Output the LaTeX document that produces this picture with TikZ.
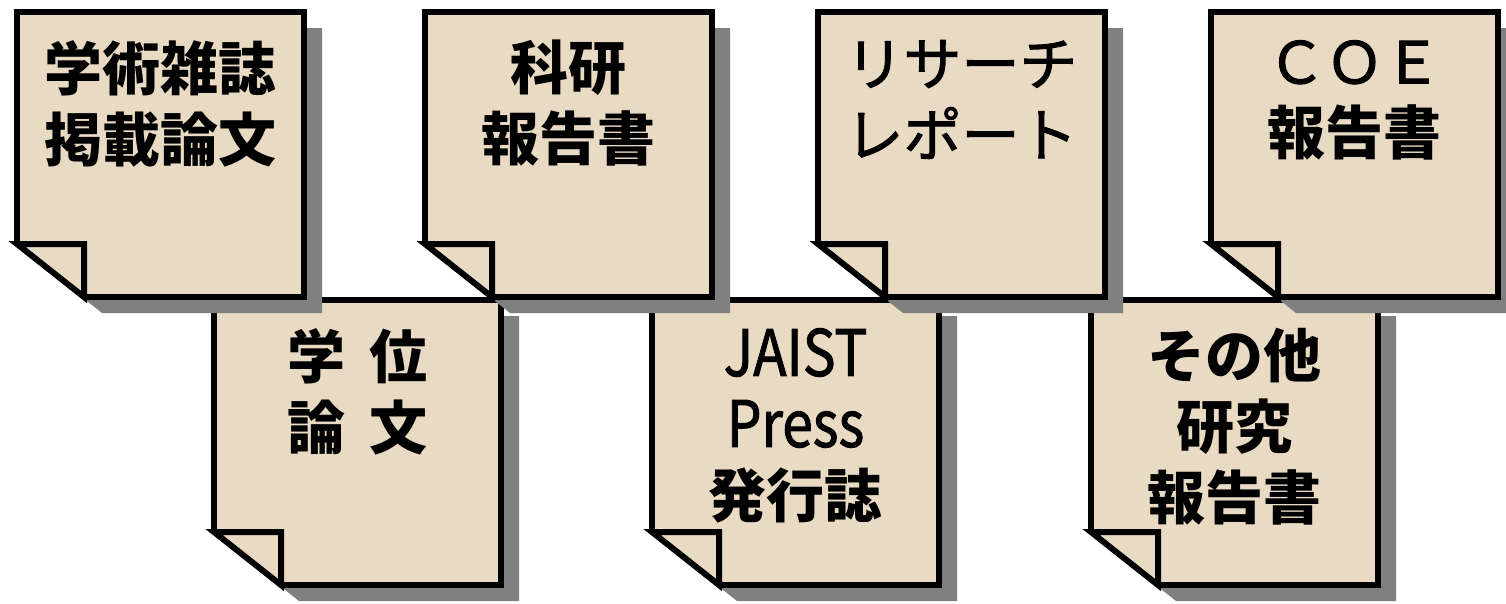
\documentclass[tikz,border=0pt]{standalone}
\usepackage{fontspec}
\usepackage{graphicx}
\newfontfamily\jpfont{Noto Sans CJK JP}
\newfontfamily\jpmid{Noto Sans CJK JP}[FakeBold=1.6]
\definecolor{paper}{RGB}{233,218,196}
\definecolor{shade}{RGB}{128,128,128}
\newcommand{\halfsp}{\hspace{0.4em}}
\newcommand{\midtext}[1]{{\jpmid\mdseries #1}}
\newcommand{\narrowlatin}[1]{{\jpmid\mdseries\fontsize{64}{71}\selectfont\scalebox{0.86}[1]{#1}}}
\tikzset{
  outline/.style={draw=black,line width=6pt,line join=miter},
  papersheet/.style={fill=paper},
  shadowsheet/.style={fill=shade},
  sheetlabel/.style={
    font=\jpfont\bfseries\fontsize{58}{71}\selectfont,
    align=center,anchor=north,inner sep=0pt
  }
}
% one sheet with folded corner: top-left x, y, node name, text
\newcommand{\notesheet}[4]{
  \fill[shadowsheet] (#1+18,#2+16) -- ++(287,0) -- ++(0,285) -- ++(-220,0) -- ++(-67,-53) -- cycle;
  \fill[papersheet] (#1,#2) -- ++(287,0) -- ++(0,285) -- ++(-220,0) -- ++(-67,-53) -- cycle;
  \draw[outline] (#1,#2+232) -- (#1,#2) -- (#1+287,#2) -- (#1+287,#2+285) -- (#1+67,#2+285);
  \filldraw[outline,papersheet] (#1,#2+232) -- (#1+67,#2+232) -- (#1+67,#2+285) -- cycle;
  \node[sheetlabel] (#3) at (#1+143.5,#2+28) {#4};
}
\begin{document}
\begin{tikzpicture}[x=1pt,y=-1pt]
  \useasboundingbox (0,0) rectangle (1506,603);
  % lower row first, upper row lies on top of it
  \notesheet{214}{300}{thesis}{学\halfsp 位\\論\halfsp 文}
  \notesheet{652}{300}{jaistpress}{\narrowlatin{JAIST}\\\narrowlatin{Press}\\発行誌}
  \notesheet{1091}{300}{otherreport}{その他\\研究\\報告書}
  \notesheet{17}{12}{journal}{学術雑誌\\掲載論文}
  \notesheet{425}{12}{kaken}{科研\\報告書}
  \notesheet{818}{12}{research}{\midtext{リサーチ}\\\midtext{レポート}}
  \notesheet{1211}{12}{coe}{\midtext{ＣＯＥ}\\報告書}
\end{tikzpicture}
\end{document}
